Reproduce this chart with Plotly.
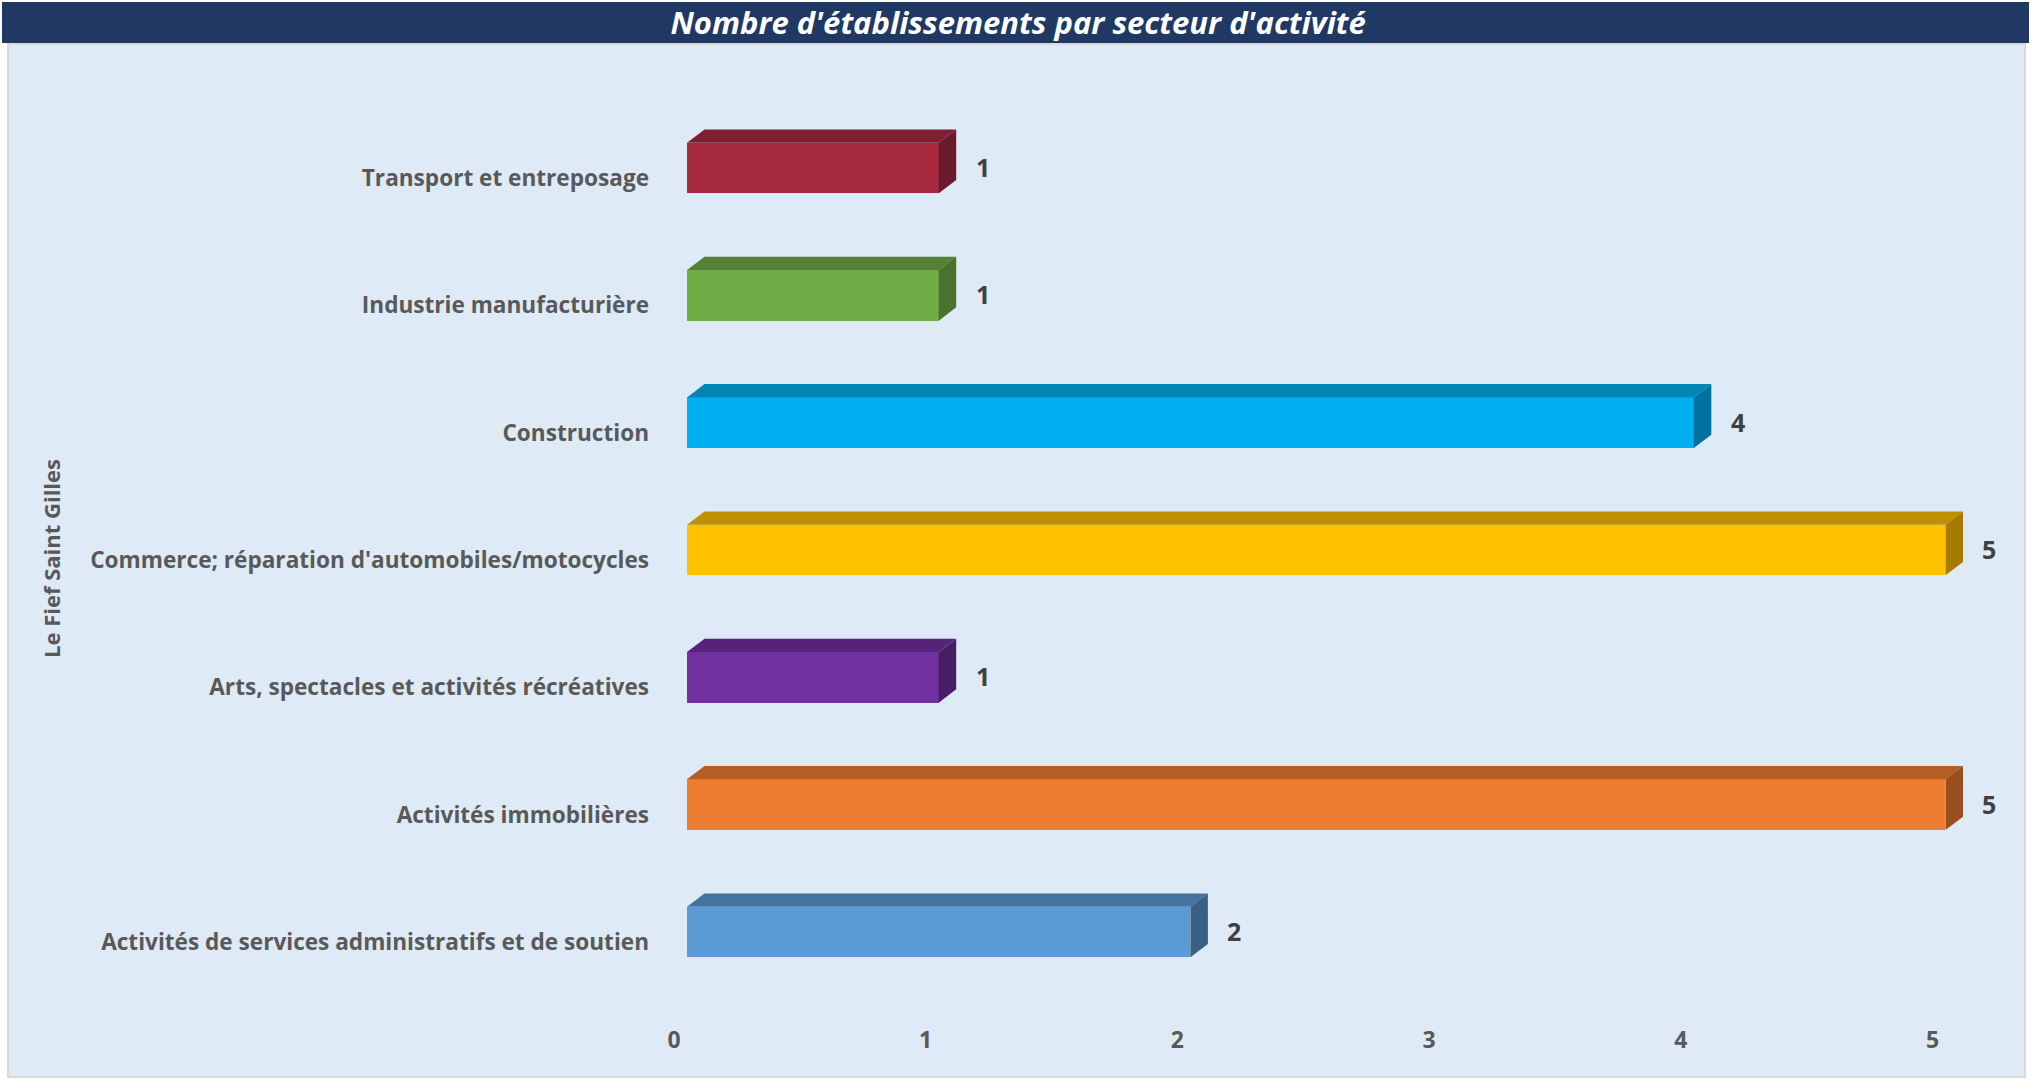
import plotly.graph_objects as go

# ---- data ----
categories = [
    "Activités de services administratifs et de soutien",
    "Activités immobilières",
    "Arts, spectacles et activités récréatives",
    "Commerce; réparation d'automobiles/motocycles",
    "Construction",
    "Industrie manufacturière",
    "Transport et entreposage",
]
values = [2, 5, 1, 5, 4, 1, 1]
front_colors = ["#5B9BD5", "#ED7D31", "#7030A0", "#FFC000", "#00B0F0", "#70AD47", "#A6293F"]
top_colors = ["#44739E", "#B65D23", "#55247A", "#C09000", "#0086B6", "#568236", "#7F1F33"]
side_colors = ["#385F84", "#994E1D", "#471E66", "#A67C00", "#0071A0", "#4A712E", "#6A1A2B"]
x_ticks = [0, 1, 2, 3, 4, 5]
title_text = "Nombre d'établissements par secteur d'activité"
y_title = "Le Fief Saint Gilles"

# ---- geometry (pixels) ----
W, H = 2033, 1080
ML, MR, MT, MB = 687, 12, 50, 62
X_RANGE = [0, 5.3]
Y_RANGE = [-0.6754, 6.927]
plot_w = W - ML - MR
plot_h = H - MT - MB
px_per_x = plot_w / (X_RANGE[1] - X_RANGE[0])
px_per_y = plot_h / (Y_RANGE[1] - Y_RANGE[0])

BAR_W = 50.6 / px_per_y          # front face thickness in y units
DX = 17.5 / px_per_x             # depth offset x
DY = 13.3 / px_per_y             # depth offset y

def px_to_paper_x(px):
    return (px - ML) / plot_w

def px_to_paper_y(py):
    return (H - MB - py) / plot_h

FONT = "'Open Sans', 'Noto Sans', sans-serif"
GRAY = "#595959"

fig = go.Figure()

idx = list(range(len(categories)))

# front faces
fig.add_trace(go.Bar(
    x=values, y=idx, orientation="h", width=BAR_W,
    marker=dict(color=front_colors, line=dict(width=0)),
    hovertext=categories, hoverinfo="x+text", showlegend=False,
))

# top and side faces
for i, v in enumerate(values):
    yt = i + BAR_W / 2
    yb = i - BAR_W / 2
    fig.add_trace(go.Scatter(
        x=[0, DX, v + DX, v, 0], y=[yt, yt + DY, yt + DY, yt, yt],
        fill="toself", fillcolor=top_colors[i], mode="lines",
        line=dict(width=0, color=top_colors[i]), hoverinfo="skip", showlegend=False,
    ))
    fig.add_trace(go.Scatter(
        x=[v, v + DX, v + DX, v, v], y=[yb, yb + DY, yt + DY, yt, yb],
        fill="toself", fillcolor=side_colors[i], mode="lines",
        line=dict(width=0, color=side_colors[i]), hoverinfo="skip", showlegend=False,
    ))

# data labels
for i, v in enumerate(values):
    fig.add_annotation(
        x=v, y=i, xref="x", yref="y", text=str(v), showarrow=False,
        xanchor="left", yanchor="middle", xshift=35, yshift=1,
        font=dict(family=FONT, size=25, color="#404040", weight="bold"),
    )

# y-axis title (rotated)
fig.add_annotation(
    x=px_to_paper_x(51), y=px_to_paper_y(559), xref="paper", yref="paper",
    text=y_title, textangle=-90, showarrow=False,
    xanchor="center", yanchor="middle",
    font=dict(family=FONT, size=22, color=GRAY, weight="bold"),
)

# background panels
fig.add_shape(
    type="rect", xref="paper", yref="paper", layer="below",
    x0=px_to_paper_x(8), x1=px_to_paper_x(2025),
    y0=px_to_paper_y(1077), y1=px_to_paper_y(44),
    fillcolor="#DEEAF6", line=dict(color="#D9D9D9", width=2),
)
fig.add_shape(
    type="rect", xref="paper", yref="paper", layer="below",
    x0=px_to_paper_x(2), x1=px_to_paper_x(2029),
    y0=px_to_paper_y(43), y1=px_to_paper_y(2),
    fillcolor="#1F3864", line=dict(width=0),
)

fig.update_layout(
    width=W, height=H,
    margin=dict(l=ML, r=MR, t=MT, b=MB, pad=0),
    paper_bgcolor="white", plot_bgcolor="rgba(0,0,0,0)",
    title=dict(
        text=title_text, x=0.5008, xref="container", xanchor="center",
        y=1 - 23 / H, yref="container", yanchor="middle",
        font=dict(family=FONT, size=31, color="white", weight="bold", style="italic"),
    ),
    bargap=0, showlegend=False,
    font=dict(family=FONT, color=GRAY),
)
fig.update_xaxes(
    range=X_RANGE, tickvals=x_ticks, ticktext=[str(t) for t in x_ticks],
    showgrid=False, zeroline=False, showline=False, ticks="",
    tickfont=dict(family=FONT, size=23, color=GRAY, weight="bold"),
    ticklabelshift=-13, ticklabelstandoff=6,
)
fig.update_yaxes(
    range=Y_RANGE, tickvals=idx, ticktext=categories,
    showgrid=False, zeroline=False, showline=False, ticks="",
    tickfont=dict(family=FONT, size=22.6, color=GRAY, weight="bold"),
    ticklabelshift=10, ticklabelstandoff=37,
)

fig.write_html(
    "out.html",
    config={"displayModeBar": False},
    post_script="document.body.style.margin='0';document.body.style.overflow='hidden';",
)
